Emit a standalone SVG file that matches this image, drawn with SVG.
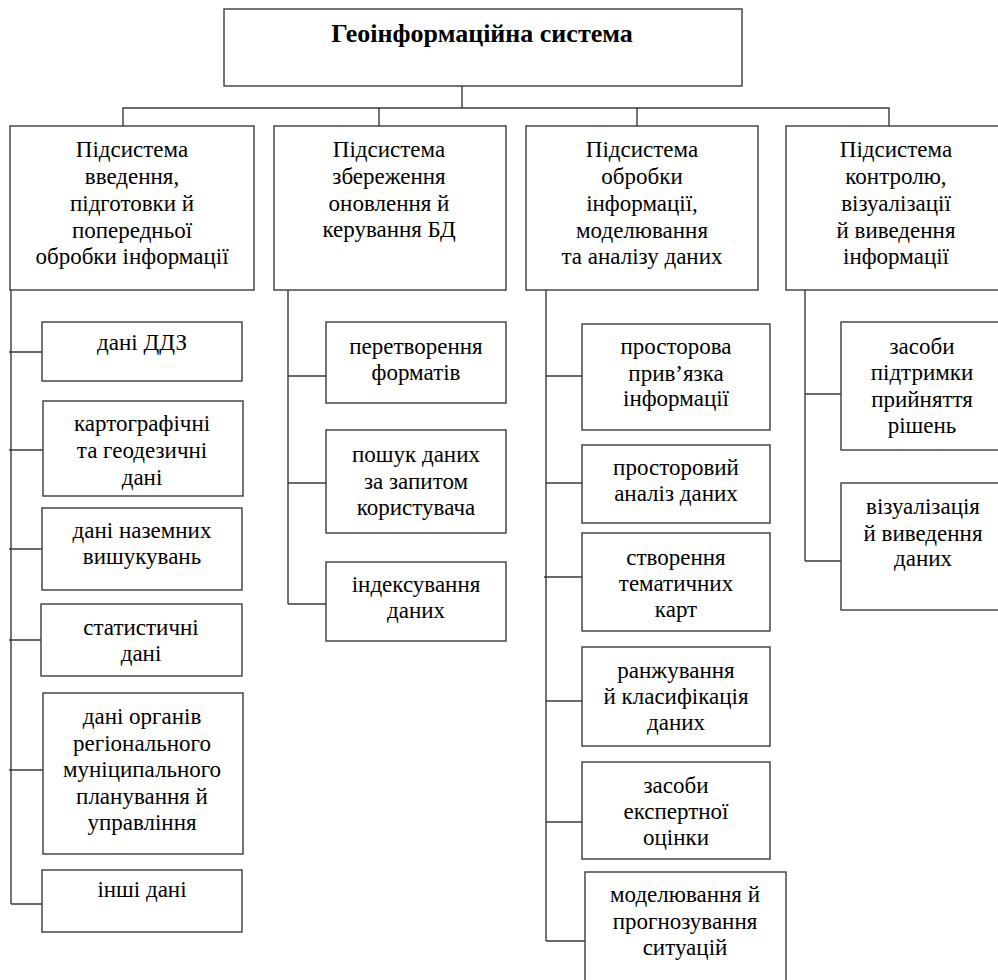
<svg xmlns="http://www.w3.org/2000/svg" width="998" height="980" viewBox="0 0 998 980">
<style>
.b{fill:#fff;stroke:#3a3a3a;stroke-width:1.4}
.c{fill:none;stroke:#3a3a3a;stroke-width:1.4}
</style>
<rect width="998" height="980" fill="#fff"/>
<g id="connectors">
<path class="c" d="M462 86V108M123 126V108H889V126M379 108V126M637 108V126"/>
<path class="c" d="M11 290V904M9 352H42M9 450H43M9 549H42M9 640H41M9 770H43M11 904H42"/>
<path class="c" d="M288 290V604M288 376H326M288 483H326M288 604H326"/>
<path class="c" d="M546 290V941M546 376H582M546 483H582M544 577H582M546 701H582M546 822H582M546 941H585"/>
<path class="c" d="M805 290V561M805 394H841M805 561H841"/>
</g>
<g id="root"><rect class="b" x="224" y="9" width="518" height="77"/><text x="482" y="42" font-family="Liberation Serif" font-size="26" font-weight="bold" text-anchor="middle">Геоінформаційна  система</text></g>
<g id="s1"><rect class="b" x="10" y="126" width="244" height="164"/>
<text font-family="Liberation Serif" font-size="23" text-anchor="middle" x="132" y="157">Підсистема</text><text font-family="Liberation Serif" font-size="23" text-anchor="middle" x="132" y="184">введення,</text><text font-family="Liberation Serif" font-size="23" text-anchor="middle" x="132" y="211">підготовки й</text><text font-family="Liberation Serif" font-size="23" text-anchor="middle" x="132" y="238">попередньої</text><text font-family="Liberation Serif" font-size="23" text-anchor="middle" x="132" y="264">обробки інформації</text></g>
<g id="s2"><rect class="b" x="274" y="126" width="232" height="164"/>
<text font-family="Liberation Serif" font-size="23" text-anchor="middle" x="389" y="157">Підсистема</text><text font-family="Liberation Serif" font-size="23" text-anchor="middle" x="389" y="184">збереження</text><text font-family="Liberation Serif" font-size="23" text-anchor="middle" x="389" y="211">оновлення й</text><text font-family="Liberation Serif" font-size="23" text-anchor="middle" x="389" y="237">керування БД</text></g>
<g id="s3"><rect class="b" x="526" y="126" width="232" height="164"/>
<text font-family="Liberation Serif" font-size="23" text-anchor="middle" x="642" y="157">Підсистема</text><text font-family="Liberation Serif" font-size="23" text-anchor="middle" x="642" y="184">обробки</text><text font-family="Liberation Serif" font-size="23" text-anchor="middle" x="642" y="211">інформації,</text><text font-family="Liberation Serif" font-size="23" text-anchor="middle" x="642" y="238">моделювання</text><text font-family="Liberation Serif" font-size="23" text-anchor="middle" x="642" y="264">та аналізу даних</text></g>
<g id="s4"><rect class="b" x="786" y="126" width="230" height="164"/>
<text font-family="Liberation Serif" font-size="23" text-anchor="middle" x="896" y="157">Підсистема</text><text font-family="Liberation Serif" font-size="23" text-anchor="middle" x="896" y="184">контролю,</text><text font-family="Liberation Serif" font-size="23" text-anchor="middle" x="896" y="211">візуалізації</text><text font-family="Liberation Serif" font-size="23" text-anchor="middle" x="896" y="238">й виведення</text><text font-family="Liberation Serif" font-size="23" text-anchor="middle" x="896" y="264">інформації</text></g>

<g id="c1a"><rect class="b" x="42" y="322" width="200" height="59"/><text font-family="Liberation Serif" font-size="23" text-anchor="middle" x="142" y="350">дані ДДЗ</text></g>
<g id="c1b"><rect class="b" x="43" y="401" width="200" height="95"/><text font-family="Liberation Serif" font-size="23" text-anchor="middle" x="142" y="431">картографічні</text><text font-family="Liberation Serif" font-size="23" text-anchor="middle" x="142" y="458">та геодезичні</text><text font-family="Liberation Serif" font-size="23" text-anchor="middle" x="142" y="485">дані</text></g>
<g id="c1c"><rect class="b" x="42" y="508" width="200" height="82"/><text font-family="Liberation Serif" font-size="23" text-anchor="middle" x="142" y="538">дані наземних</text><text font-family="Liberation Serif" font-size="23" text-anchor="middle" x="142" y="564">вишукувань</text></g>
<g id="c1d"><rect class="b" x="41" y="604" width="201" height="72"/><text font-family="Liberation Serif" font-size="23" text-anchor="middle" x="141" y="635">статистичні</text><text font-family="Liberation Serif" font-size="23" text-anchor="middle" x="141" y="661">дані</text></g>
<g id="c1e"><rect class="b" x="43" y="693" width="200" height="161"/><text font-family="Liberation Serif" font-size="23" text-anchor="middle" x="142" y="724">дані органів</text><text font-family="Liberation Serif" font-size="23" text-anchor="middle" x="142" y="751">регіонального</text><text font-family="Liberation Serif" font-size="23" text-anchor="middle" x="142" y="777">муніципального</text><text font-family="Liberation Serif" font-size="23" text-anchor="middle" x="142" y="804">планування й</text><text font-family="Liberation Serif" font-size="23" text-anchor="middle" x="142" y="830">управління</text></g>
<g id="c1f"><rect class="b" x="42" y="870" width="200" height="62"/><text font-family="Liberation Serif" font-size="23" text-anchor="middle" x="142" y="897">інші дані</text></g>

<g id="c2a"><rect class="b" x="326" y="322" width="180" height="81"/><text font-family="Liberation Serif" font-size="23" text-anchor="middle" x="416" y="354">перетворення</text><text font-family="Liberation Serif" font-size="23" text-anchor="middle" x="416" y="380">форматів</text></g>
<g id="c2b"><rect class="b" x="326" y="430" width="180" height="103"/><text font-family="Liberation Serif" font-size="23" text-anchor="middle" x="416" y="462">пошук даних</text><text font-family="Liberation Serif" font-size="23" text-anchor="middle" x="416" y="489">за запитом</text><text font-family="Liberation Serif" font-size="23" text-anchor="middle" x="416" y="515">користувача</text></g>
<g id="c2c"><rect class="b" x="326" y="562" width="180" height="79"/><text font-family="Liberation Serif" font-size="23" text-anchor="middle" x="416" y="592">індексування</text><text font-family="Liberation Serif" font-size="23" text-anchor="middle" x="416" y="618">даних</text></g>

<g id="c3a"><rect class="b" x="582" y="324" width="188" height="106"/><text font-family="Liberation Serif" font-size="23" text-anchor="middle" x="676" y="354">просторова</text><text font-family="Liberation Serif" font-size="23" text-anchor="middle" x="676" y="381">прив’язка</text><text font-family="Liberation Serif" font-size="23" text-anchor="middle" x="676" y="406">інформації</text></g>
<g id="c3b"><rect class="b" x="582" y="445" width="188" height="78"/><text font-family="Liberation Serif" font-size="23" text-anchor="middle" x="676" y="475">просторовий</text><text font-family="Liberation Serif" font-size="23" text-anchor="middle" x="676" y="501">аналіз даних</text></g>
<g id="c3c"><rect class="b" x="582" y="533" width="188" height="98"/><text font-family="Liberation Serif" font-size="23" text-anchor="middle" x="676" y="565">створення</text><text font-family="Liberation Serif" font-size="23" text-anchor="middle" x="676" y="591">тематичних</text><text font-family="Liberation Serif" font-size="23" text-anchor="middle" x="676" y="617">карт</text></g>
<g id="c3d"><rect class="b" x="582" y="647" width="188" height="99"/><text font-family="Liberation Serif" font-size="23" text-anchor="middle" x="676" y="678">ранжування</text><text font-family="Liberation Serif" font-size="23" text-anchor="middle" x="676" y="704">й класифікація</text><text font-family="Liberation Serif" font-size="23" text-anchor="middle" x="676" y="730">даних</text></g>
<g id="c3e"><rect class="b" x="582" y="762" width="188" height="97"/><text font-family="Liberation Serif" font-size="23" text-anchor="middle" x="676" y="793">засоби</text><text font-family="Liberation Serif" font-size="23" text-anchor="middle" x="676" y="819">експертної</text><text font-family="Liberation Serif" font-size="23" text-anchor="middle" x="676" y="845">оцінки</text></g>
<g id="c3f"><rect class="b" x="585" y="872" width="201" height="120"/><text font-family="Liberation Serif" font-size="23" text-anchor="middle" x="685" y="902">моделювання й</text><text font-family="Liberation Serif" font-size="23" text-anchor="middle" x="685" y="929">прогнозування</text><text font-family="Liberation Serif" font-size="23" text-anchor="middle" x="685" y="955">ситуацій</text></g>

<g id="c4a"><rect class="b" x="841" y="322" width="170" height="128"/><text font-family="Liberation Serif" font-size="23" text-anchor="middle" x="922" y="354">засоби</text><text font-family="Liberation Serif" font-size="23" text-anchor="middle" x="922" y="380">підтримки</text><text font-family="Liberation Serif" font-size="23" text-anchor="middle" x="922" y="407">прийняття</text><text font-family="Liberation Serif" font-size="23" text-anchor="middle" x="922" y="433">рішень</text></g>
<g id="c4b"><rect class="b" x="841" y="483" width="170" height="127"/><text font-family="Liberation Serif" font-size="23" text-anchor="middle" x="923" y="514">візуалізація</text><text font-family="Liberation Serif" font-size="23" text-anchor="middle" x="923" y="541">й виведення</text><text font-family="Liberation Serif" font-size="23" text-anchor="middle" x="923" y="566">даних</text></g>
</svg>
